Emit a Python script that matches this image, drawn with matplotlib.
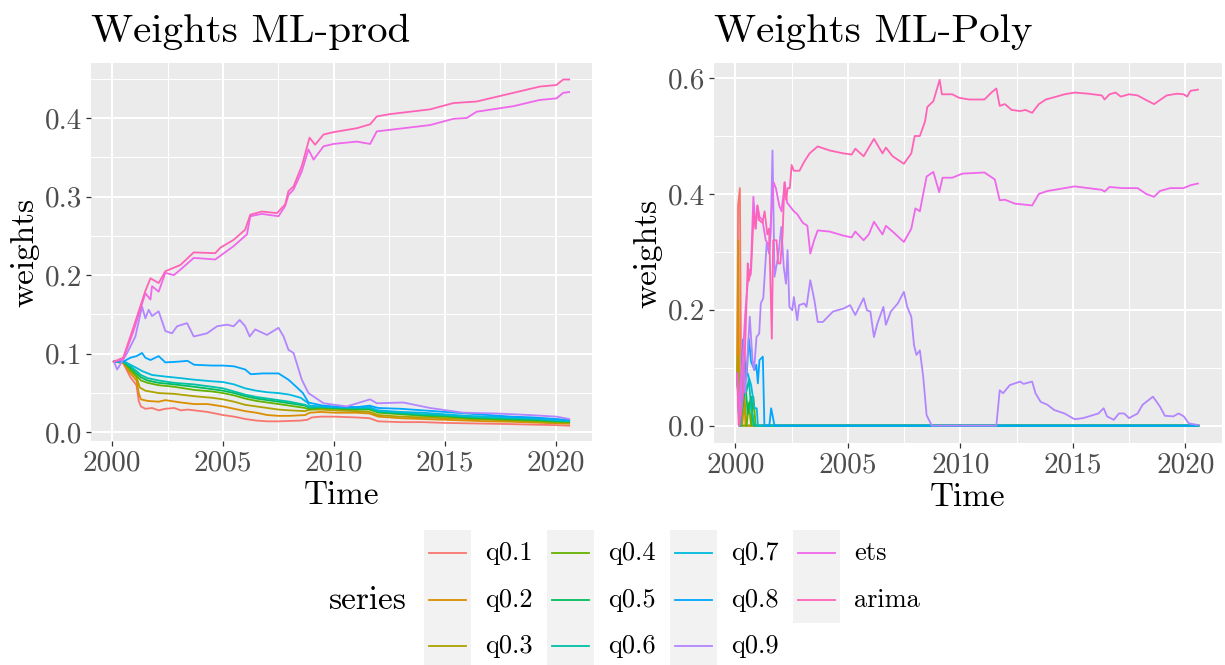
import numpy as np
import matplotlib
matplotlib.use('Agg')
import matplotlib.pyplot as plt
from matplotlib.patches import Rectangle
from matplotlib.lines import Line2D

plt.rcParams['font.family'] = ['cmr10', 'DejaVu Serif']
plt.rcParams['axes.unicode_minus'] = False

series = ['q0.1', 'q0.2', 'q0.3', 'q0.4', 'q0.5', 'q0.6', 'q0.7', 'q0.8', 'q0.9', 'ets', 'arima']
colors = ['#F8766D', '#DB8E00', '#AEA200', '#64B200', '#00BD5C', '#00C1A7',
          '#00BADE', '#00A6FF', '#B385FF', '#EF67EB', '#FF63B6']

# ---- ML-prod weights (time, weight)
prod_q01 = [(2000.08,0.09),(2000.5,0.088),(2000.83,0.07),(2001.1,0.06),(2001.2,0.04),(2001.3,0.033),(2001.5,0.03),
            (2001.8,0.031),(2002.1,0.028),(2002.4,0.03),(2002.8,0.031),(2003.1,0.028),(2003.4,0.029),(2003.7,0.028),
            (2004.3,0.026),(2005.0,0.022),(2005.5,0.02),(2006.0,0.017),(2006.5,0.015),(2007.0,0.014),(2007.5,0.014),
            (2008.0,0.0145),(2008.5,0.015),(2008.8,0.016),(2009.0,0.019),(2009.4,0.02),(2010.0,0.02),(2011.0,0.019),
            (2011.6,0.018),(2012.0,0.014),(2013.0,0.013),(2014.0,0.013),(2015.0,0.012),(2016.0,0.0115),(2017.0,0.011),
            (2018.0,0.0105),(2019.0,0.0098),(2020.0,0.0092),(2020.6,0.0085)]
prod_q02 = [(2000.08,0.09),(2000.5,0.089),(2000.83,0.075),(2001.1,0.066),(2001.2,0.05),(2001.3,0.042),(2001.6,0.04),
            (2002.1,0.039),(2002.4,0.041),(2003.1,0.038),(2003.7,0.036),(2004.3,0.036),(2005.0,0.033),(2005.5,0.03),
            (2006.0,0.027),(2006.5,0.025),(2007.0,0.022),(2007.5,0.021),(2008.0,0.021),(2008.7,0.022),(2008.9,0.025),
            (2009.4,0.026),(2010.0,0.025),(2011.0,0.025),(2011.6,0.024),(2012.0,0.02),(2013.0,0.018),(2014.0,0.017),
            (2015.0,0.016),(2016.0,0.015),(2017.0,0.014),(2018.0,0.0135),(2019.0,0.0125),(2020.0,0.0115),(2020.6,0.011)]
prod_q03 = [(2000.08,0.09),(2000.5,0.089),(2000.83,0.078),(2001.1,0.07),(2001.25,0.057),(2001.5,0.053),(2002.1,0.05),
            (2002.8,0.049),(2003.7,0.046),(2004.5,0.044),(2005.0,0.042),(2005.5,0.039),(2006.0,0.035),(2006.5,0.033),
            (2007.0,0.031),(2007.5,0.029),(2008.0,0.028),(2008.7,0.027),(2008.9,0.029),(2009.4,0.029),(2010.0,0.028),
            (2011.0,0.027),(2011.6,0.026),(2012.0,0.022),(2013.0,0.02),(2014.0,0.019),(2015.0,0.018),(2016.0,0.017),
            (2017.0,0.016),(2018.0,0.015),(2019.0,0.014),(2020.0,0.0125),(2020.6,0.012)]
prod_q04 = [(2000.08,0.09),(2000.5,0.09),(2000.83,0.08),(2001.1,0.072),(2001.3,0.066),(2001.6,0.063),(2002.1,0.06),
            (2002.8,0.058),(2003.7,0.054),(2004.5,0.052),(2005.0,0.05),(2005.5,0.047),(2006.0,0.043),(2006.5,0.04),
            (2007.0,0.038),(2007.5,0.036),(2008.0,0.034),(2008.7,0.031),(2008.9,0.029),(2009.4,0.031),(2010.0,0.03),
            (2011.0,0.029),(2011.6,0.029),(2012.0,0.025),(2013.0,0.023),(2014.0,0.021),(2015.0,0.02),(2016.0,0.018),
            (2017.0,0.017),(2018.0,0.016),(2019.0,0.015),(2020.0,0.0135),(2020.6,0.013)]
prod_q05 = [(2000.08,0.09),(2000.5,0.09),(2000.83,0.082),(2001.1,0.075),(2001.3,0.07),(2001.6,0.066),(2002.1,0.063),
            (2002.8,0.061),(2003.7,0.058),(2004.5,0.055),(2005.0,0.053),(2005.5,0.05),(2006.0,0.046),(2006.5,0.043),
            (2007.0,0.041),(2007.5,0.039),(2008.0,0.037),(2008.7,0.034),(2008.9,0.031),(2009.4,0.032),(2010.0,0.031),
            (2011.0,0.03),(2011.6,0.03),(2012.0,0.026),(2013.0,0.024),(2014.0,0.022),(2015.0,0.021),(2016.0,0.019),
            (2017.0,0.018),(2018.0,0.017),(2019.0,0.016),(2020.0,0.0145),(2020.6,0.014)]
prod_q06 = [(2000.08,0.09),(2000.5,0.091),(2000.83,0.084),(2001.1,0.078),(2001.3,0.073),(2001.6,0.069),(2002.1,0.066),
            (2002.8,0.063),(2003.7,0.061),(2004.5,0.058),(2005.0,0.056),(2005.5,0.052),(2006.0,0.048),(2006.5,0.045),
            (2007.0,0.043),(2007.5,0.041),(2008.0,0.039),(2008.7,0.035),(2008.9,0.032),(2009.4,0.033),(2010.0,0.032),
            (2011.0,0.031),(2011.6,0.031),(2012.0,0.027),(2013.0,0.025),(2014.0,0.023),(2015.0,0.022),(2016.0,0.02),
            (2017.0,0.019),(2018.0,0.018),(2019.0,0.017),(2020.0,0.015),(2020.6,0.0145)]
prod_q07 = [(2000.08,0.09),(2000.5,0.091),(2000.83,0.086),(2001.1,0.082),(2001.35,0.078),(2001.8,0.073),(2002.4,0.071),
            (2003.1,0.069),(2003.7,0.067),(2004.5,0.065),(2005.0,0.064),(2005.5,0.061),(2006.0,0.056),(2006.5,0.053),
            (2007.0,0.051),(2007.5,0.05),(2008.0,0.048),(2008.5,0.044),(2008.8,0.038),(2008.9,0.034),(2009.4,0.033),
            (2010.0,0.032),(2011.0,0.032),(2011.6,0.032),(2012.0,0.028),(2013.0,0.026),(2014.0,0.025),(2015.0,0.023),
            (2016.0,0.021),(2017.0,0.02),(2018.0,0.019),(2019.0,0.018),(2020.0,0.016),(2020.6,0.015)]
prod_q08 = [(2000.08,0.09),(2000.5,0.09),(2000.83,0.095),(2001.1,0.097),(2001.35,0.101),(2001.5,0.095),(2001.73,0.092),
            (2002.1,0.097),(2002.4,0.089),(2003.0,0.09),(2003.4,0.091),(2003.7,0.086),(2004.5,0.085),(2005.0,0.085),
            (2005.5,0.084),(2006.0,0.08),(2006.25,0.074),(2006.8,0.075),(2007.5,0.075),(2007.95,0.067),(2008.3,0.058),
            (2008.6,0.05),(2008.85,0.038),(2009.5,0.034),(2010.0,0.033),(2011.0,0.032),(2011.6,0.034),(2012.0,0.031),
            (2013.0,0.03),(2014.0,0.028),(2015.0,0.026),(2016.0,0.024),(2017.0,0.022),(2018.0,0.02),(2019.0,0.019),
            (2020.0,0.017),(2020.6,0.016)]
prod_q09 = [(2000.08,0.09),(2000.23,0.08),(2000.68,0.101),(2001.05,0.122),(2001.35,0.16),(2001.5,0.145),(2001.65,0.156),
            (2001.8,0.148),(2002.1,0.154),(2002.4,0.129),(2002.7,0.126),(2002.93,0.135),(2003.38,0.139),(2003.68,0.122),
            (2004.28,0.126),(2004.73,0.135),(2005.18,0.137),(2005.48,0.135),(2005.75,0.143),(2006.0,0.135),(2006.2,0.122),
            (2006.45,0.131),(2006.98,0.124),(2007.5,0.133),(2007.73,0.122),(2007.95,0.105),(2008.18,0.101),(2008.55,0.067),
            (2008.85,0.05),(2009.53,0.037),(2010.58,0.033),(2011.63,0.042),(2011.93,0.037),(2013.13,0.038),(2014.33,0.031),
            (2015.83,0.025),(2017.33,0.024),(2018.83,0.022),(2020.03,0.02),(2020.6,0.017)]
prod_ets = [(2000.08,0.09),(2000.5,0.093),(2000.98,0.13),(2001.5,0.177),(2001.73,0.169),(2001.8,0.186),(2002.1,0.179),
            (2002.4,0.203),(2002.78,0.2),(2003.08,0.207),(2003.68,0.222),(2004.65,0.22),(2005.48,0.237),(2006.08,0.252),
            (2006.23,0.275),(2006.75,0.278),(2007.5,0.275),(2007.8,0.288),(2007.95,0.302),(2008.18,0.309),(2008.55,0.332),
            (2008.85,0.36),(2009.08,0.347),(2009.53,0.364),(2009.98,0.367),(2011.03,0.37),(2011.63,0.367),(2011.93,0.383),
            (2012.53,0.385),(2014.33,0.391),(2015.38,0.399),(2015.98,0.4),(2016.43,0.408),(2018.08,0.415),(2019.28,0.423),
            (2020.03,0.425),(2020.33,0.432),(2020.6,0.433)]
prod_arima = [(2000.08,0.09),(2000.5,0.095),(2000.98,0.135),(2001.5,0.18),(2001.73,0.196),(2002.1,0.19),(2002.4,0.205),
              (2003.08,0.213),(2003.68,0.229),(2004.65,0.228),(2004.88,0.235),(2005.48,0.245),(2006.0,0.258),(2006.23,0.277),
              (2006.75,0.281),(2007.43,0.279),(2007.8,0.29),(2007.95,0.307),(2008.18,0.313),(2008.55,0.339),(2008.9,0.375),
              (2009.15,0.366),(2009.53,0.379),(2009.98,0.382),(2011.03,0.387),(2011.63,0.392),(2011.93,0.402),(2012.53,0.405),
              (2014.33,0.411),(2015.38,0.419),(2016.43,0.421),(2018.08,0.432),(2019.28,0.44),(2020.03,0.442),(2020.33,0.449),
              (2020.6,0.449)]

# ---- ML-Poly weights (time, weight)
poly_q01 = [(2000.08,0.09),(2000.12,0.38),(2000.2,0.41),(2000.27,0.0),(2020.58,0.0)]
poly_q02 = [(2000.08,0.09),(2000.13,0.32),(2000.18,0.0),(2000.3,0.0),(2000.38,0.06),(2000.45,0.0),(2020.58,0.0)]
poly_q03 = [(2000.08,0.09),(2000.12,0.12),(2000.17,0.0),(2000.3,0.0),(2000.4,0.05),(2000.5,0.0),(2020.58,0.0)]
poly_q04 = [(2000.08,0.09),(2000.15,0.02),(2000.25,0.0),(2000.5,0.0),(2000.6,0.04),(2000.7,0.0),(2000.8,0.05),
            (2000.9,0.0),(2020.58,0.0)]
poly_q05 = [(2000.08,0.09),(2000.2,0.0),(2000.45,0.07),(2000.55,0.02),(2000.7,0.05),(2000.8,0.0),(2020.58,0.0)]
poly_q06 = [(2000.08,0.09),(2000.2,0.0),(2000.35,0.09),(2000.5,0.06),(2000.6,0.08),(2000.7,0.03),(2000.85,0.0),
            (2020.58,0.0)]
poly_q07 = [(2000.08,0.09),(2000.2,0.0),(2000.4,0.08),(2000.55,0.09),(2000.7,0.07),(2000.85,0.03),(2000.95,0.03),
            (2001.0,0.0),(2020.58,0.0)]
poly_q08 = [(2000.08,0.09),(2000.18,0.0),(2000.34,0.149),(2000.49,0.08),(2000.6,0.15),(2000.7,0.11),(2000.85,0.096),
            (2000.93,0.105),(2001.0,0.073),(2001.07,0.113),(2001.22,0.119),(2001.29,0.0),(2001.51,0.0),(2001.59,0.03),
            (2001.74,0.0),(2020.58,0.0)]
poly_q09 = [(2000.08,0.09),(2000.18,0.0),(2000.33,0.113),(2000.44,0.056),(2000.64,0.188),(2000.76,0.113),(2000.83,0.096),
            (2000.94,0.153),(2001.06,0.159),(2001.13,0.211),(2001.24,0.22),(2001.39,0.314),(2001.5,0.297),(2001.57,0.332),
            (2001.65,0.475),(2001.74,0.257),(2001.92,0.297),(2002.04,0.343),(2002.15,0.274),(2002.25,0.245),(2002.32,0.303),
            (2002.4,0.205),(2002.53,0.199),(2002.6,0.222),(2002.75,0.182),(2002.83,0.208),(2003.06,0.211),(2003.16,0.205),
            (2003.33,0.251),(2003.51,0.217),(2003.66,0.179),(2003.89,0.179),(2004.34,0.197),(2004.8,0.202),(2005.1,0.208),
            (2005.33,0.191),(2005.7,0.22),(2005.85,0.199),(2006.0,0.197),(2006.16,0.153),(2006.31,0.176),(2006.58,0.205),
            (2006.69,0.174),(2006.91,0.197),(2007.22,0.211),(2007.49,0.231),(2007.64,0.205),(2007.82,0.188),(2007.94,0.139),
            (2008.05,0.122),(2008.2,0.13),(2008.35,0.084),(2008.5,0.018),(2008.73,0.0),(2011.6,0.0),(2011.75,0.061),
            (2011.9,0.056),(2012.2,0.07),(2012.66,0.076),(2012.81,0.072),(2013.19,0.076),(2013.34,0.056),(2013.57,0.041),
            (2013.87,0.036),(2014.17,0.027),(2014.63,0.021),(2015.08,0.011),(2015.46,0.013),(2016.14,0.021),(2016.37,0.03),
            (2016.52,0.016),(2016.82,0.01),(2017.05,0.021),(2017.28,0.021),(2017.5,0.013),(2017.88,0.021),(2018.1,0.036),
            (2018.56,0.05),(2018.87,0.033),(2019.09,0.017),(2019.47,0.016),(2019.7,0.021),(2019.93,0.016),(2020.15,0.004),
            (2020.56,0.001)]
poly_ets = [(2000.08,0.09),(2000.15,0.03),(2000.3,0.1),(2000.45,0.2),(2000.6,0.27),(2000.68,0.26),(2000.8,0.395),
            (2000.9,0.34),(2000.98,0.38),(2001.08,0.36),(2001.2,0.355),(2001.35,0.32),(2001.5,0.31),(2001.7,0.42),
            (2001.8,0.41),(2001.95,0.38),(2002.05,0.37),(2002.2,0.42),(2002.3,0.385),(2002.6,0.37),(2002.75,0.365),
            (2003.0,0.35),(2003.2,0.345),(2003.33,0.297),(2003.5,0.32),(2003.66,0.337),(2004.19,0.335),(2004.8,0.328),
            (2005.17,0.325),(2005.33,0.335),(2005.7,0.32),(2005.93,0.33),(2006.16,0.352),(2006.54,0.33),(2006.69,0.345),
            (2006.99,0.335),(2007.49,0.317),(2007.82,0.34),(2008.0,0.375),(2008.2,0.37),(2008.35,0.4),(2008.5,0.43),
            (2008.8,0.438),(2009.06,0.403),(2009.21,0.428),(2009.64,0.428),(2010.09,0.435),(2011.07,0.437),(2011.53,0.425),
            (2011.75,0.389),(2011.98,0.39),(2012.44,0.383),(2012.74,0.382),(2013.19,0.38),(2013.49,0.4),(2013.87,0.405),
            (2014.33,0.408),(2015.08,0.413),(2015.69,0.41),(2016.29,0.407),(2016.41,0.404),(2016.63,0.412),(2017.2,0.41),
            (2017.88,0.41),(2018.26,0.4),(2018.61,0.395),(2018.87,0.405),(2019.32,0.41),(2019.92,0.41),(2020.23,0.415),
            (2020.56,0.418)]
poly_arima = [(2000.08,0.09),(2000.15,0.0),(2000.25,0.02),(2000.33,0.05),(2000.42,0.12),(2000.55,0.28),(2000.6,0.25),
              (2000.7,0.27),(2000.82,0.37),(2000.9,0.34),(2000.98,0.38),(2001.05,0.355),(2001.2,0.35),(2001.3,0.37),
              (2001.42,0.33),(2001.5,0.34),(2001.62,0.15),(2001.68,0.32),(2001.83,0.32),(2001.9,0.28),(2002.0,0.28),
              (2002.1,0.33),(2002.18,0.42),(2002.25,0.39),(2002.33,0.41),(2002.42,0.41),(2002.5,0.45),(2002.6,0.44),
              (2002.85,0.44),(2003.05,0.455),(2003.3,0.47),(2003.66,0.482),(2004.19,0.475),(2004.8,0.47),(2005.17,0.468),
              (2005.33,0.478),(2005.7,0.465),(2006.16,0.495),(2006.54,0.47),(2006.69,0.48),(2006.99,0.465),(2007.49,0.452),
              (2007.82,0.47),(2007.97,0.5),(2008.2,0.5),(2008.43,0.525),(2008.53,0.55),(2008.8,0.56),(2009.08,0.597),
              (2009.18,0.572),(2009.64,0.572),(2009.94,0.566),(2010.39,0.563),(2011.07,0.563),(2011.38,0.575),(2011.6,0.582),
              (2011.75,0.552),(2011.98,0.555),(2012.28,0.545),(2012.66,0.543),(2012.89,0.545),(2013.19,0.54),(2013.49,0.555),
              (2013.8,0.563),(2014.18,0.567),(2014.63,0.572),(2015.08,0.575),(2015.69,0.573),(2016.29,0.57),(2016.41,0.563),
              (2016.63,0.572),(2016.9,0.575),(2017.13,0.568),(2017.5,0.572),(2017.88,0.57),(2018.26,0.562),(2018.61,0.555),
              (2018.87,0.562),(2019.17,0.57),(2019.62,0.573),(2019.92,0.572),(2020.08,0.568),(2020.23,0.578),(2020.56,0.58)]

prod_data = [prod_q01, prod_q02, prod_q03, prod_q04, prod_q05, prod_q06, prod_q07, prod_q08, prod_q09, prod_ets, prod_arima]
poly_data = [poly_q01, poly_q02, poly_q03, poly_q04, poly_q05, poly_q06, poly_q07, poly_q08, poly_q09, poly_ets, poly_arima]

x_ticks = [2000, 2005, 2010, 2015, 2020]
prod_yticks = [0.0, 0.1, 0.2, 0.3, 0.4]
poly_yticks = [0.0, 0.2, 0.4, 0.6]

W, H = 1225, 665
fig = plt.figure(figsize=(W / 100, H / 100), dpi=100)


def px_axes(x0, y0, x1, y1):
    return fig.add_axes([x0 / W, 1 - y1 / H, (x1 - x0) / W, (y1 - y0) / H])


def style(ax, data, yticks, title, ylim):
    for d, c in zip(data, colors):
        arr = np.array(d)
        ax.plot(arr[:, 0], arr[:, 1], color=c, lw=1.3, solid_joinstyle='round')
    ax.set_facecolor('#EBEBEB')
    for s in ax.spines.values():
        s.set_visible(False)
    ax.set_xticks(x_ticks)
    ax.set_xticklabels([str(t) for t in x_ticks])
    ax.set_xticks([2002.5, 2007.5, 2012.5, 2017.5], minor=True)
    ax.set_yticks(yticks)
    ax.set_yticklabels(['%.1f' % t for t in yticks])
    step = yticks[1] - yticks[0]
    ax.set_yticks([t + step / 2 for t in yticks], minor=True)
    # limits after ticks so the minor ticks do not stretch the view
    ax.set_xlim(1999.05, 2021.63)
    ax.set_ylim(*ylim)
    ax.grid(which='major', color='white', lw=1.5)
    ax.grid(which='minor', color='white', lw=0.75)
    ax.set_axisbelow(True)
    ax.tick_params(which='major', length=3.6, width=0.9, color='#333333',
                   labelcolor='#4D4D4D', labelsize=21, pad=3)
    ax.tick_params(which='minor', length=0)
    ax.set_xlabel('Time', fontsize=24, labelpad=3)
    ax.set_ylabel('weights', fontsize=24, labelpad=4)
    ax.set_title(title, loc='left', fontsize=29.5, pad=15)


ax1 = px_axes(91, 63, 592, 441)
style(ax1, prod_data, prod_yticks, 'Weights ML-prod', (-0.011, 0.470))
ax2 = px_axes(714, 63, 1222, 443)
style(ax2, poly_data, poly_yticks, 'Weights ML-Poly', (-0.030, 0.626))

# legend (ggplot style: grey key boxes, 4 columns filled column-wise)
lg = fig.add_axes([0, 0, 1, 1])
lg.set_xlim(0, W)
lg.set_ylim(H, 0)
lg.axis('off')
col_x = [424, 547, 670, 793]
row_y = [530, 576.5, 623]
key_w, key_h = 47, 46.5
lg.text(329, 600, 'series', fontsize=24, va='center', ha='left')
for i, (name, c) in enumerate(zip(series, colors)):
    col, row = i // 3, i % 3
    x0, y0 = col_x[col], row_y[row]
    lg.add_patch(Rectangle((x0, y0), key_w, key_h, facecolor='#F2F2F2', edgecolor='none'))
    lg.add_line(Line2D([x0 + 5, x0 + key_w - 5], [y0 + key_h / 2] * 2, color=c, lw=1.3))
    lg.text(x0 + key_w + 14, y0 + key_h / 2, name, fontsize=19, va='center', ha='left')

fig.savefig('out.png', dpi=100)
